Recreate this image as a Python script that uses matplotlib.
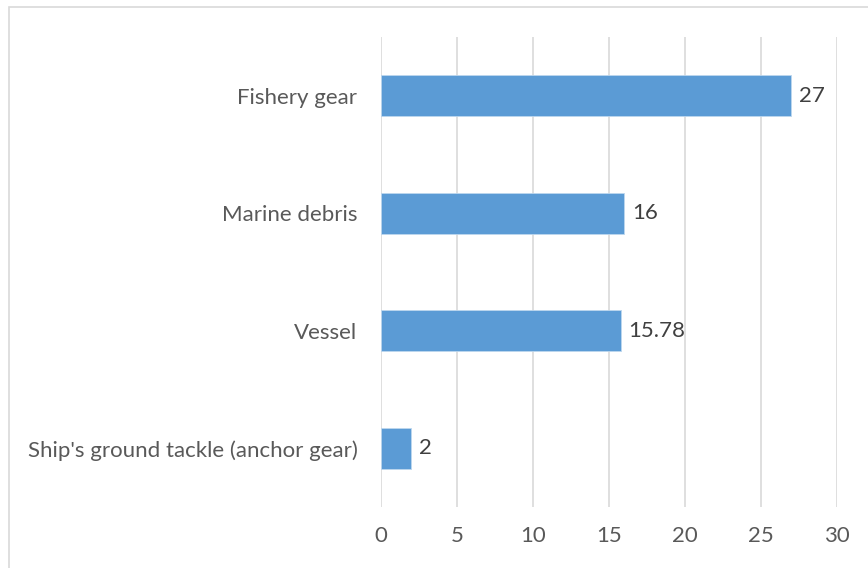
import matplotlib.pyplot as plt
from matplotlib.patches import Rectangle

categories = ["Ship's ground tackle (anchor gear)", "Vessel", "Marine debris", "Fishery gear"]
values = [2, 15.78, 16, 27]
labels = ["2", "15.78", "16", "27"]
xticks = [0, 5, 10, 15, 20, 25, 30]

plt.rcParams['font.family'] = ['Lato', 'DejaVu Sans']

fig = plt.figure(figsize=(8.68, 5.68), dpi=100)
ax = fig.add_axes([381 / 868, 1 - 507 / 568, 456 / 868, 470 / 568])

ax.barh(range(len(categories)), values, height=0.35, color='#5B9BD5',
        edgecolor='#BDD7EE', linewidth=0.6, zorder=3)
for i, (v, lab) in enumerate(zip(values, labels)):
    ax.text(v + 0.5, i, lab, va='center', ha='left', fontsize=16, color='#404040')

ax.set_xlim(0, 30)
ax.set_ylim(-0.5, len(categories) - 0.5)
ax.set_xticks(xticks)
ax.set_yticks(range(len(categories)))
ax.set_yticklabels(categories)
ax.grid(axis='x', color='#D9D9D9', linewidth=1.2, zorder=0)
for s in ax.spines.values():
    s.set_visible(False)
ax.tick_params(axis='both', length=0, labelsize=16, labelcolor='#595959')
ax.tick_params(axis='x', pad=14)
ax.tick_params(axis='y', pad=17)

fig.patches.append(Rectangle((9 / 868, -0.1), 1.2, 1 - 7 / 568 + 0.1, transform=fig.transFigure,
                             fill=False, edgecolor='#D9D9D9', linewidth=1.2))

fig.savefig('out.png', dpi=100)
